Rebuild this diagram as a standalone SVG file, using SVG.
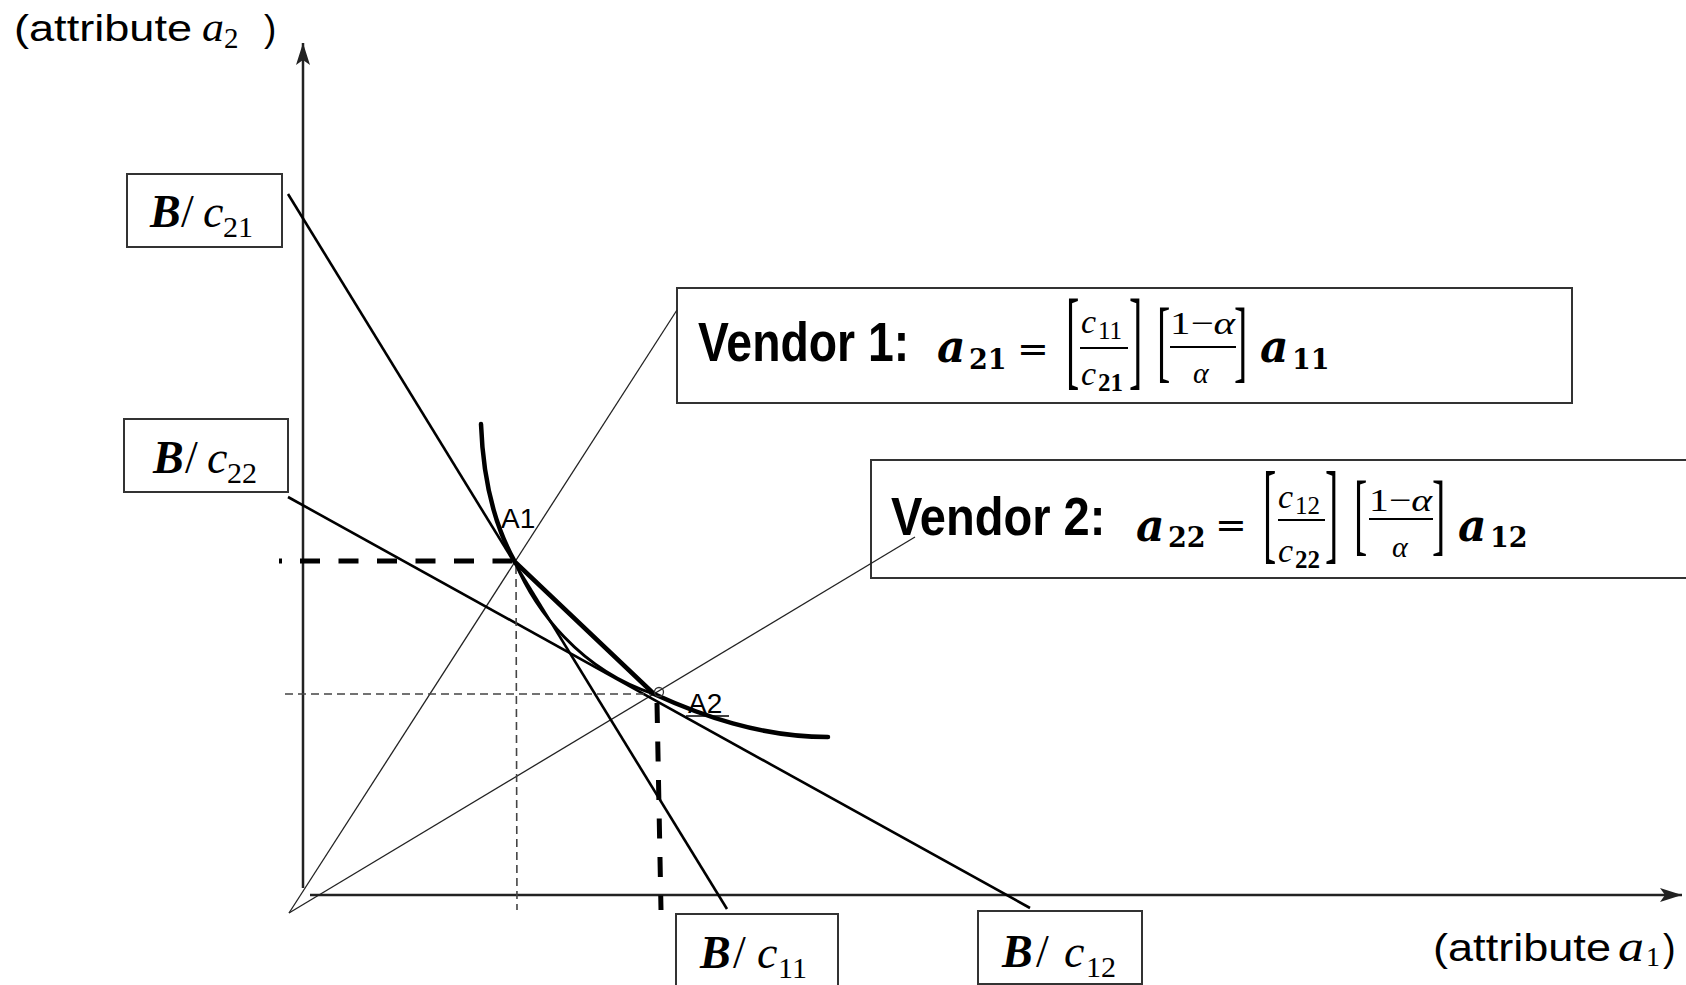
<svg xmlns="http://www.w3.org/2000/svg" width="1686" height="985" viewBox="0 0 1686 985">
<style>
.sans{font-family:"Liberation Sans",Arial,sans-serif;fill:#000}
.m{font-family:"Liberation Serif","DejaVu Serif",serif;fill:#000}
.dm{font-family:"DejaVu Serif","Liberation Serif",serif;fill:#000}
.it{font-style:italic}
.bf{font-weight:bold}
.box{fill:#fff;stroke:#333;stroke-width:2}
.ax{stroke:#222;stroke-width:2.5;fill:none}
.bl{stroke:#000;stroke-width:2.6;fill:none}
.ray{stroke:#222;stroke-width:1.3;fill:none}
.thin{stroke:#444;stroke-width:1.6;stroke-dasharray:8 5;fill:none}
.thick{stroke:#000;stroke-width:5;stroke-dasharray:20 18.5;fill:none}
.curve{stroke:#000;stroke-width:4.5;fill:none;stroke-linecap:round}
.bar{stroke:#000;stroke-width:2.2}
.br{font-family:"Liberation Serif",serif;font-size:40px}
</style>
<defs>
<marker id="arr" markerUnits="userSpaceOnUse" markerWidth="24" markerHeight="16" refX="22" refY="8" orient="auto">
<path d="M0,1 L22,8 L0,15 L5,8 z" fill="#222"/>
</marker>
</defs>

<g id="axes">
<line class="ax" x1="303" y1="888" x2="303" y2="43" marker-end="url(#arr)"/>
<line class="ax" x1="310" y1="895" x2="1682" y2="895" marker-end="url(#arr)"/>
</g>

<g id="axis-labels">
<text class="sans" x="14" y="41" font-size="37" textLength="178" lengthAdjust="spacingAndGlyphs">(attribute</text>
<text class="m it" x="202" y="41" font-size="40" textLength="22" lengthAdjust="spacingAndGlyphs">a</text>
<text class="m" x="224" y="48" font-size="29">2</text>
<text class="sans" x="264" y="41" font-size="37">)</text>
<text class="sans" x="1433" y="961" font-size="38" textLength="178" lengthAdjust="spacingAndGlyphs">(attribute</text>
<text class="m it" x="1618" y="961" font-size="44" textLength="26" lengthAdjust="spacingAndGlyphs">a</text>
<text class="m" x="1646" y="966" font-size="28">1</text>
<text class="sans" x="1663" y="961" font-size="38">)</text>
</g>

<g id="point-A1">
<text class="sans" x="501" y="528" font-size="28">A1</text>
</g>
<g id="point-A2">
<text class="sans" x="688" y="713" font-size="28">A2</text>
<line x1="686" y1="716" x2="729" y2="716" stroke="#000" stroke-width="1.5"/>
</g>

<g id="node-B-c21">
<rect class="box" x="127" y="174" width="155" height="73"/>
<text class="m bf it" x="150" y="227" font-size="46">B</text>
<text class="m" x="181" y="227" font-size="46">/</text>
<text class="m it" x="203" y="227" font-size="46">c</text>
<text class="m" x="223" y="237" font-size="30">21</text>
</g>

<g id="node-B-c22">
<rect class="box" x="124" y="419" width="164" height="73"/>
<text class="m bf it" x="153" y="473" font-size="46">B</text>
<text class="m" x="185" y="473" font-size="46">/</text>
<text class="m it" x="207" y="473" font-size="46">c</text>
<text class="m" x="227" y="483" font-size="30">22</text>
</g>

<g id="node-B-c11">
<rect class="box" x="676" y="914" width="162" height="80"/>
<text class="m bf it" x="700" y="968" font-size="46">B</text>
<text class="m" x="733" y="968" font-size="46">/</text>
<text class="m it" x="757" y="968" font-size="46">c</text>
<text class="m" x="778" y="978" font-size="30">11</text>
</g>

<g id="node-B-c12">
<rect class="box" x="978" y="911" width="164" height="73"/>
<text class="m bf it" x="1002" y="967" font-size="46">B</text>
<text class="m" x="1036" y="967" font-size="46">/</text>
<text class="m it" x="1064" y="967" font-size="46">c</text>
<text class="m" x="1086" y="977" font-size="30">12</text>
</g>

<g id="node-vendor1">
<rect class="box" x="677" y="288" width="895" height="115"/>
<text class="sans bf" font-size="55" transform="translate(698,361) scale(0.843,1)">Vendor 1:</text>
<text class="dm bf it" x="937" y="362" font-size="44">a</text>
<text class="dm bf" x="969" y="369" font-size="27">21</text>
<text class="dm" x="1017" y="362" font-size="38">=</text>
<text class="br" transform="translate(1066,375) scale(1,2.77)">[</text>
<text class="m it" x="1081" y="333" font-size="34">c</text>
<text class="m" x="1098" y="339" font-size="25">11</text>
<line class="bar" x1="1080" y1="348" x2="1128" y2="348"/>
<text class="m it" x="1081" y="385" font-size="34">c</text>
<text class="m bf" x="1098" y="391" font-size="25">21</text>
<text class="br" transform="translate(1129,375) scale(1,2.77)">]</text>
<text class="br" transform="translate(1157,371) scale(1,2.29)">[</text>
<text class="m" x="1170" y="334" font-size="32" textLength="65" lengthAdjust="spacingAndGlyphs">1−<tspan class="it">α</tspan></text>
<line class="bar" x1="1170" y1="347" x2="1236" y2="347"/>
<text class="m it" x="1193" y="383" font-size="30">α</text>
<text class="br" transform="translate(1234,371) scale(1,2.29)">]</text>
<text class="dm bf it" x="1260" y="362" font-size="44">a</text>
<text class="dm bf" x="1292" y="369" font-size="27">11</text>
</g>

<g id="node-vendor2">
<rect class="box" x="871" y="460" width="830" height="118"/>
<text class="sans bf" font-size="53" transform="translate(891,535) scale(0.888,1)">Vendor 2:</text>
<text class="dm bf it" x="1136" y="541" font-size="44">a</text>
<text class="dm bf" x="1168" y="547" font-size="27">22</text>
<text class="dm" x="1215" y="538" font-size="38">=</text>
<text class="br" transform="translate(1263,549) scale(1,2.8)">[</text>
<text class="m it" x="1278" y="508" font-size="34">c</text>
<text class="m" x="1295" y="514" font-size="25">12</text>
<line class="bar" x1="1278" y1="520" x2="1325" y2="520"/>
<text class="m it" x="1278" y="562" font-size="34">c</text>
<text class="m bf" x="1295" y="568" font-size="25">22</text>
<text class="br" transform="translate(1325,549) scale(1,2.8)">]</text>
<text class="br" transform="translate(1354,544) scale(1,2.29)">[</text>
<text class="m" x="1369" y="511" font-size="32" textLength="63" lengthAdjust="spacingAndGlyphs">1−<tspan class="it">α</tspan></text>
<line class="bar" x1="1369" y1="519" x2="1433" y2="519"/>
<text class="m it" x="1392" y="557" font-size="30">α</text>
<text class="br" transform="translate(1432,544) scale(1,2.29)">]</text>
<text class="dm bf it" x="1458" y="541" font-size="44">a</text>
<text class="dm bf" x="1490" y="547" font-size="27">12</text>
</g>

<g id="connectors">
<line class="ray" x1="289" y1="913" x2="677" y2="310"/>
<line class="ray" x1="289" y1="913" x2="915" y2="537"/>
<line class="bl" x1="288" y1="194" x2="727" y2="909"/>
<line class="bl" x1="288" y1="497" x2="1030" y2="908"/>
<line class="thin" x1="285" y1="694" x2="654" y2="694"/>
<line class="thin" x1="516" y1="566" x2="517" y2="910"/>
<line x1="279" y1="561" x2="282" y2="561" stroke="#000" stroke-width="5"/>
<line class="thick" x1="300" y1="561" x2="514" y2="561"/>
<line class="thick" x1="657" y1="703" x2="661" y2="910"/>
<path class="curve" d="M481,424 C483,478 494,525 515,562 L654,694 C700,715 760,737 828,737"/>
<path d="M515,562 C535,610 580,670 654,694" fill="none" stroke="#000" stroke-width="3"/>
<circle cx="659" cy="692" r="4.5" fill="none" stroke="#333" stroke-width="1.3"/>
</g>
</svg>
